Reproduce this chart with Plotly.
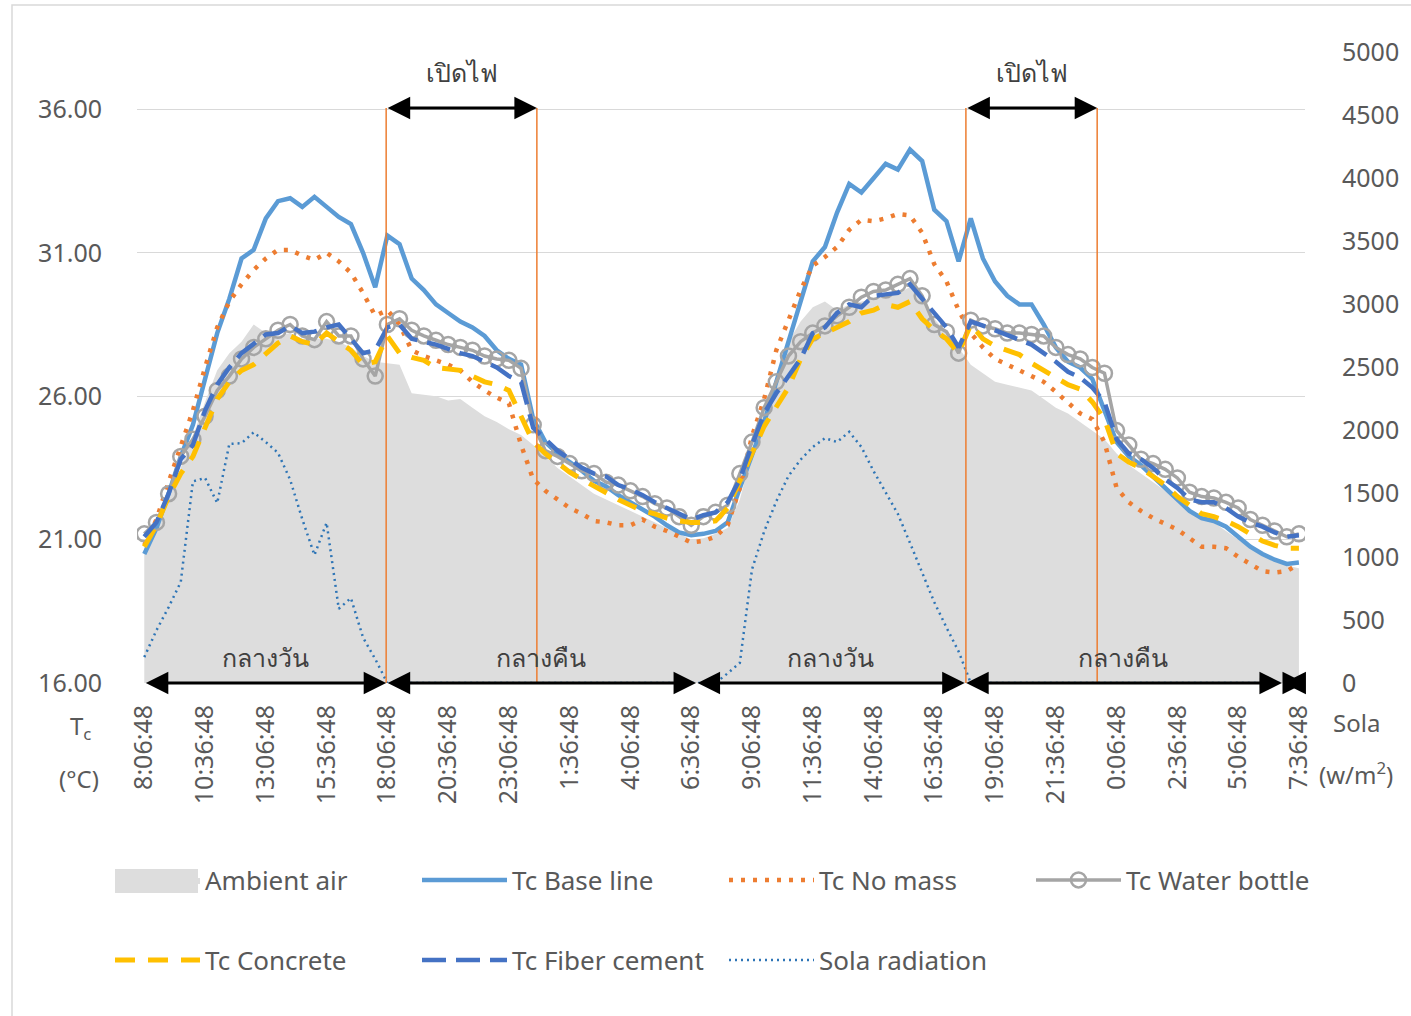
import plotly.graph_objects as go

# ---------------- data (30-minute readings, 96 points) ----------------
TICK_LABELS = ["8:06:48", "10:36:48", "13:06:48", "15:36:48", "18:06:48",
               "20:36:48", "23:06:48", "1:36:48", "4:06:48", "6:36:48",
               "9:06:48", "11:36:48", "14:06:48", "16:36:48", "19:06:48",
               "21:36:48", "0:06:48", "2:36:48", "5:06:48", "7:36:48"]

AMBIENT = [20.9, 21.5, 22.4, 23.5, 24.6, 25.8, 26.9, 27.5, 27.9, 28.5,
           28.2, 28.1, 28.2, 28.0, 28.0, 28.0, 27.9, 27.7, 27.4, 27.2,
           27.15, 27.1, 26.1, 26.05, 26.0, 25.85, 25.9, 25.6, 25.3, 25.1,
           24.85, 24.65, 24.3, 23.9, 23.5, 23.2, 22.9, 22.6, 22.4, 22.2,
           22.0, 21.8, 21.6, 21.4, 21.2, 21.0, 21.05, 21.2, 21.4, 22.4,
           24.0, 25.4, 26.7, 27.9, 28.6, 29.1, 29.3, 29.0, 29.2, 29.3,
           29.4, 29.5, 29.6, 29.8, 29.4, 28.7, 28.2, 27.7, 27.1, 26.8,
           26.5, 26.4, 26.3, 26.2, 25.9, 25.6, 25.4, 25.1, 24.8, 24.5,
           24.0, 23.6, 23.3, 23.0, 22.7, 22.4, 22.0, 21.8, 21.6, 21.3,
           21.0, 20.7, 20.5, 20.3, 20.1, 20.0]

BASE_LINE = [20.5, 21.4, 22.6, 23.9, 25.0, 26.6, 28.2, 29.4, 30.8, 31.1,
             32.2, 32.8, 32.9, 32.6, 32.95, 32.6, 32.25, 32.0, 31.0, 29.8,
             31.6, 31.3, 30.1, 29.7, 29.2, 28.9, 28.6, 28.4, 28.1, 27.6,
             27.3, 27.1, 25.2, 24.4, 24.0, 23.7, 23.4, 23.05, 22.85, 22.55,
             22.3, 22.05, 21.8, 21.5, 21.25, 21.15, 21.2, 21.3, 21.6, 22.8,
             24.0, 25.1, 26.5, 27.9, 29.25, 30.7, 31.2, 32.4, 33.4, 33.1,
             33.6, 34.1, 33.9, 34.6, 34.2, 32.5, 32.1, 30.7, 32.2, 30.8,
             30.0, 29.5, 29.2, 29.2, 28.5, 27.7, 27.2, 27.0, 26.6, 25.5,
             24.4, 23.9, 23.6, 23.2, 22.8, 22.4, 22.0, 21.75, 21.65, 21.45,
             21.1, 20.75, 20.5, 20.3, 20.15, 20.2]

NO_MASS = [20.8, 21.7, 23.0, 24.3, 25.5, 27.0, 28.4, 29.3, 29.9, 30.4,
           30.8, 31.1, 31.1, 30.9, 30.75, 31.0, 30.7, 30.3, 29.6, 28.8,
           29.0, 28.5, 27.6, 27.4, 27.25, 27.1, 26.9, 26.5, 26.2, 25.95,
           25.75, 24.3, 23.1, 22.7, 22.4, 22.1, 21.9, 21.65, 21.6, 21.5,
           21.5, 21.7, 21.45, 21.3, 21.1, 20.9, 20.95, 21.1, 21.5, 22.8,
           24.6, 25.9, 27.6, 28.7, 29.7, 30.55, 30.85, 31.2, 31.8, 32.15,
           32.1, 32.2, 32.35, 32.3, 31.7, 30.6, 30.0, 29.0, 28.2, 27.7,
           27.3, 27.1, 26.9, 26.7, 26.5, 26.15, 25.75, 25.4, 25.2, 24.4,
           22.8, 22.3, 22.0, 21.75, 21.55, 21.35, 21.05, 20.75, 20.75, 20.7,
           20.4, 20.15, 19.9, 19.85, 19.9, 20.15]

WATER_BOTTLE = [21.2, 21.6, 22.6, 23.9, 24.5, 25.3, 26.2, 26.7, 27.3, 27.7,
                28.0, 28.3, 28.5, 28.1, 27.97, 28.6, 28.1, 28.1, 27.3, 26.7,
                28.5, 28.7, 28.3, 28.1, 27.95, 27.8, 27.7, 27.6, 27.4, 27.3,
                27.25, 26.97, 25.0, 24.1, 23.9, 23.65, 23.4, 23.3, 23.0, 22.9,
                22.7, 22.5, 22.25, 22.1, 21.8, 21.5, 21.8, 21.95, 22.2, 23.3,
                24.4, 25.6, 26.5, 27.4, 27.9, 28.2, 28.45, 28.8, 29.1, 29.45,
                29.65, 29.7, 29.9, 30.1, 29.5, 28.5, 28.25, 27.5, 28.65, 28.45,
                28.35, 28.2, 28.2, 28.15, 28.1, 27.7, 27.45, 27.3, 27.0, 26.8,
                24.8, 24.3, 23.8, 23.65, 23.45, 23.15, 22.65, 22.5, 22.45, 22.3,
                22.1, 21.7, 21.5, 21.3, 21.1, 21.2]

CONCRETE = [20.75, 21.5, 22.5, 23.3, 23.9, 24.9, 25.9, 26.5, 26.9, 27.1,
            27.5, 27.85, 28.1, 27.9, 27.8, 28.2, 27.9, 27.6, 27.1, 27.2,
            28.1, 27.5, 27.35, 27.25, 27.0, 26.95, 26.9, 26.7, 26.5, 26.4,
            26.2, 25.3, 24.4, 24.0, 23.65, 23.35, 23.1, 22.85, 22.65, 22.4,
            22.2, 22.0, 21.9, 21.75, 21.65, 21.6, 21.6, 21.65, 22.1, 23.0,
            24.0, 24.95, 25.6, 26.3, 27.3, 28.0, 28.2, 28.4, 28.6, 28.9,
            29.0, 29.2, 29.1, 29.3, 28.7, 28.3, 28.0, 27.5, 28.5, 28.0,
            27.75, 27.6, 27.45, 27.15, 26.9, 26.6, 26.4, 26.25, 25.8, 25.2,
            24.0, 23.7, 23.5, 23.2, 22.9, 22.5, 22.2, 21.9, 21.8, 21.65,
            21.45, 21.2, 20.95, 20.8, 20.7, 20.7]

FIBER_CEMENT = [21.1, 21.6, 22.6, 23.8, 24.3, 25.5, 26.4, 27.0, 27.5, 27.85,
                28.15, 28.2, 28.45, 28.2, 28.25, 28.4, 28.5, 28.0, 27.5, 27.6,
                28.4, 28.5, 28.0, 27.9, 27.8, 27.65, 27.5, 27.4, 27.2, 27.0,
                26.7, 26.5, 24.9, 24.5, 24.1, 23.8, 23.5, 23.3, 23.2, 22.9,
                22.75, 22.55, 22.3, 22.1, 21.9, 21.7, 21.85, 21.95, 22.3, 23.1,
                24.3, 25.4, 26.1, 26.7, 27.3, 28.2, 28.4, 28.9, 29.2, 29.1,
                29.5, 29.55, 29.6, 29.9, 29.4, 28.9, 28.4, 27.7, 28.6, 28.46,
                28.3, 28.1, 27.95, 27.8, 27.5, 27.2, 26.85, 26.65, 26.3, 25.8,
                24.5, 24.0, 23.8, 23.5, 23.1, 22.8, 22.4, 22.3, 22.3, 22.1,
                21.8, 21.6, 21.45, 21.25, 21.1, 21.15]

SOLA = [205, 418, 600, 800, 1597, 1625, 1426, 1895, 1900, 1986,
        1909, 1824, 1611, 1298, 1014, 1270, 588, 673, 360, 190,
        0, 0, 0, 0, 0, 0, 0, 0, 0, 0,
        0, 0, 0, 0, 0, 0, 0, 0, 0, 0,
        0, 0, 0, 0, 0, 0, 0, 0, 77, 160,
        900, 1200, 1440, 1640, 1770, 1870, 1940, 1910, 1990, 1870,
        1680, 1510, 1340, 1110, 870, 640, 440, 250, 0, 0,
        0, 0, 0, 0, 0, 0, 0, 0, 0, 0,
        0, 0, 0, 0, 0, 0, 0, 0, 0, 0,
        0, 0, 0, 0, 0, 0]

Y_TICKS = [16, 21, 26, 31, 36]
Y_TICK_TEXT = ["16.00", "21.00", "26.00", "31.00", "36.00"]

# Light-on periods and day/night periods (positions on the time index)
LIGHT_ON = [(19.9, 32.3), (67.6, 78.4)]
PERIODS = [(0, 19.9, "กลางวัน"), (19.9, 45.4, "กลางคืน"),
           (45.4, 67.5, "กลางวัน"), (67.5, 93.6, "กลางคืน"), (93.6, 95.5, "")]

# ---------------- layout geometry ----------------
W, H = 1411, 1016
ML, MR, MT, MB = 137, 106, 52, 333
PW, PH = W - ML - MR, H - MT - MB


def pxx(px):
    return (px - ML) / PW


def pxy(py):
    return (H - MB - py) / PH


FONT = "Noto Sans"
GREY_TXT = "#595959"
DARK_TXT = "#404040"

x = list(range(len(BASE_LINE)))

fig = go.Figure()
fig.add_trace(go.Scatter(x=x, y=AMBIENT, name="Ambient air", mode="lines",
                         fill="tozeroy", fillcolor="#DDDDDD",
                         line=dict(width=0, color="#DDDDDD"), legend="legend"))
fig.add_trace(go.Scatter(x=x, y=BASE_LINE, name="Tc Base line", mode="lines",
                         line=dict(color="#5B9BD5", width=4.5), legend="legend"))
fig.add_trace(go.Scatter(x=x, y=NO_MASS, name="Tc No mass", mode="lines",
                         line=dict(color="#ED7D31", width=4.5, dash="4px,8px"),
                         legend="legend"))
fig.add_trace(go.Scatter(x=x, y=WATER_BOTTLE, name="Tc Water bottle",
                         mode="lines+markers",
                         line=dict(color="#A5A5A5", width=3.5),
                         marker=dict(symbol="circle-open", size=15,
                                     color="#A5A5A5", line=dict(width=2.5, color="#A5A5A5")),
                         legend="legend"))
fig.add_trace(go.Scatter(x=x, y=CONCRETE, name="Tc Concrete", mode="lines",
                         line=dict(color="#FFC000", width=5, dash="20px,13px"),
                         legend="legend2"))
fig.add_trace(go.Scatter(x=x, y=FIBER_CEMENT, name="Tc Fiber cement", mode="lines",
                         line=dict(color="#4472C4", width=4.5, dash="24px,10px"),
                         legend="legend2"))
fig.add_trace(go.Scatter(x=x, y=SOLA, name="Sola radiation", mode="lines",
                         yaxis="y2",
                         line=dict(color="#2E75B6", width=2.5, dash="2px,4px"),
                         legend="legend2"))

shapes = []
annotations = []

# light-on markers
for a, b in LIGHT_ON:
    for xv in (a, b):
        shapes.append(dict(type="line", xref="x", yref="y", x0=xv, x1=xv,
                           y0=16, y1=36.05, line=dict(color="#ED7D31", width=1.5),
                           layer="above"))
    annotations.append(dict(x=b, y=36.05, ax=a, ay=36.05, xref="x", yref="y",
                            axref="x", ayref="y", text="", showarrow=True,
                            arrowside="end+start", arrowhead=2, startarrowhead=2,
                            arrowsize=1.5, startarrowsize=1.5, arrowwidth=3,
                            arrowcolor="black"))
    annotations.append(dict(x=(a + b) / 2, y=37.3, xref="x", yref="y",
                            text="เปิดไฟ", showarrow=False,
                            font=dict(size=25, color=DARK_TXT, family=FONT)))

# day / night arrows along the bottom
for a, b, label in PERIODS:
    annotations.append(dict(x=b, y=16, ax=a, ay=16, xref="x", yref="y",
                            axref="x", ayref="y", text="", showarrow=True,
                            arrowside="end+start", arrowhead=2, startarrowhead=2,
                            arrowsize=1.5, startarrowsize=1.5, arrowwidth=3,
                            arrowcolor="black"))
    if label:
        annotations.append(dict(x=(a + b) / 2, y=16.9, xref="x", yref="y",
                                text=label, showarrow=False,
                                font=dict(size=25, color=DARK_TXT, family=FONT)))

# axis titles
for txt, px, py in [("T<sub>c</sub>", 80, 727), ("(°C)", 79, 778),
                    ("Sola", 1356, 722), ("(w/m<sup>2</sup>)", 1356, 773)]:
    annotations.append(dict(x=pxx(px), y=pxy(py), xref="paper", yref="paper",
                            xanchor="center", yanchor="middle",
                            text=txt, showarrow=False,
                            font=dict(size=24, color=GREY_TXT, family=FONT)))

# outer chart border
shapes.append(dict(type="rect", xref="paper", yref="paper",
                   x0=pxx(12), x1=pxx(1430), y0=pxy(1040), y1=pxy(5),
                   line=dict(color="#D9D9D9", width=1.5), layer="below"))

# filled swatch for the area series in the legend
shapes.append(dict(type="rect", xref="paper", yref="paper",
                   x0=pxx(115), x1=pxx(198), y0=pxy(893), y1=pxy(869),
                   fillcolor="#DDDDDD", line=dict(width=0), layer="above"))

legend_common = dict(orientation="h", xanchor="left", yanchor="middle",
                     entrywidth=207, entrywidthmode="pixels", itemwidth=85,
                     bgcolor="rgba(0,0,0,0)", traceorder="normal",
                     font=dict(size=26, color=GREY_TXT, family=FONT))

fig.update_layout(
    width=W, height=H,
    margin=dict(l=ML, r=MR, t=MT, b=MB, pad=0),
    paper_bgcolor="white", plot_bgcolor="white",
    font=dict(family=FONT, color=GREY_TXT, size=25),
    showlegend=True,
    legend=dict(x=pxx(110), y=pxy(880), **legend_common),
    legend2=dict(x=pxx(110), y=pxy(960), **legend_common),
    xaxis=dict(range=[-0.6, 95.5], tickmode="array",
               tickvals=list(range(0, len(x), 5)), ticktext=TICK_LABELS,
               tickangle=-90, showgrid=False, zeroline=False, showline=False,
               ticks="", ticklabelstandoff=16,
               tickfont=dict(size=25, color=GREY_TXT, family=FONT)),
    yaxis=dict(range=[16, 38], tickmode="array", tickvals=Y_TICKS,
               ticktext=Y_TICK_TEXT, showgrid=True, gridcolor="#D9D9D9",
               gridwidth=1.3, zeroline=False, showline=False, ticks="",
               ticklabelstandoff=34,
               tickfont=dict(size=25, color=GREY_TXT, family=FONT)),
    yaxis2=dict(range=[0, 5000], overlaying="y", side="right", dtick=500,
                tick0=0, showgrid=False, zeroline=False, showline=False,
                ticks="", ticklabelstandoff=36,
                tickfont=dict(size=25, color=GREY_TXT, family=FONT)),
    shapes=shapes,
    annotations=annotations,
)

fig.write_html("out.html")
